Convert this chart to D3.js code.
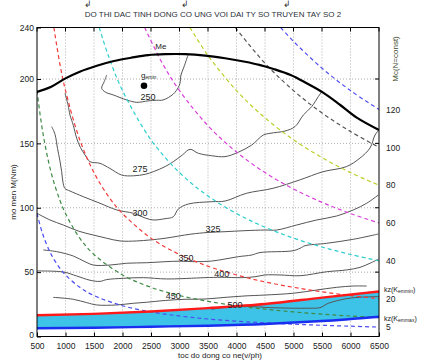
<!DOCTYPE html>
<html><head><meta charset="utf-8">
<script src="https://cdn.jsdelivr.net/npm/d3@7"></script>
<style>
body{margin:0;background:#fff}
svg{display:block}
text{font-family:"Liberation Sans",Arial,sans-serif}
</style>
</head><body>
<svg id="c" width="426" height="360"></svg>
<script>
// ---------- data ----------
const titleText = "DO THI DAC TINH DONG CO UNG VOI DAI TY SO TRUYEN TAY SO 2";
const xLabelText = "toc do dong co ne(v/ph)";
const yLabelText = "mo men M(Nm)";
const rightLabelText = "Mc(N=const)";
const xTicks = [500,1000,1500,2000,2500,3000,3500,4000,4500,5000,5500,6000,6500];
const yTicks = [0,50,100,150,200,240];
const rightTicks = [5,20,40,60,80,100,120];

// full-load torque curve Me (n, M)
const meCurve = [[500,190],[750,194],[1000,200.5],[1250,205.7],[1550,210.3],[1850,214],[2150,216.5],[2450,218.6],[2750,219.3],[3100,219.3],[3450,218.2],[3800,216.1],[4150,213.4],[4400,211],[4650,207.8],[4950,203.1],[5230,196.7],[5520,189.4],[5820,179.8],[6110,170],[6500,160.4]];

// specific fuel consumption contours (n, M)
const c250 = [[1723,203.1],[1680,198],[1635,192.8],[1700,189.8],[1839,187.6],[2074,183.7],[2249,181.9],[2447,183],[2600,183.5],[2711,183.7],[2891,188.3],[2979,193.5],[3009,196.7],[3026,203.1],[3078,209.3],[3149,218.6]];
const c275 = [[991,189],[1044,180],[1079,172],[1108,168],[1137,164],[1196,154],[1260,147],[1342,141],[1430,135.8],[1605,134.5],[1781,130.5],[1986,125.4],[2189,124.8],[2400,126],[2540,128],[2750,132],[2891,135.8],[3050,141],[3184,145.4],[3330,142.3],[3565,140.4],[3798,139.7],[4030,143.1],[4267,148.7],[4470,156.5],[4588,157.8],[4851,159.6],[5026,163],[5172,172],[5319,178.5],[5435,186.3],[5500,190.5]];
const c300 = [[758,163],[816,157],[860,146],[900,137],[933,128],[955,120],[990,115],[1079,113],[1312,108.6],[1605,103.5],[1898,98.3],[2189,95.7],[2400,92],[2540,90.5],[2746,91.5],[2891,93],[2979,99],[3154,102.9],[3565,104.7],[3798,105.2],[4172,111.2],[4640,115.1],[5109,121.6],[5518,128],[5926,131.9],[6167,138.6],[6342,146.4],[6430,156.5],[6500,160.4]];
const c325 = [[500,95.7],[728,90.5],[961,86.6],[1225,81.9],[1488,78.8],[1723,76.3],[1956,74.2],[2249,74.2],[2482,75],[2746,76.3],[3200,79.5],[3500,80.8],[3798,81.4],[4149,82.2],[4500,82.7],[4705,82.7],[5056,86.6],[5407,90.5],[5758,93.6],[6049,98.3],[6284,103.5],[6488,109.9]];
const c350 = [[611,67.2],[846,65.9],[1137,62.5],[1342,58.1],[1488,55.5],[1781,55.5],[2074,56.9],[2425,57.3],[2746,58.1],[3000,58.5],[3272,58.1],[3565,58.6],[3798,60.2],[4032,62],[4267,63.3],[4412,65.2],[4991,66.6],[5114,68.5],[5202,70.5],[5583,72.4],[6049,75.5],[6488,79.6]];
const c400 = [[500,50.9],[961,50.1],[1196,47],[1430,43.7],[1605,42.8],[1723,44.2],[2014,45.2],[2365,45.7],[2775,44.7],[3447,45.7],[3740,46],[4091,45.7],[4325,46.4],[4500,47.8],[4763,47.8],[5114,47.2],[5583,50.3],[5933,51.7],[6167,53.7],[6342,56.9],[6488,60]];
const c450 = [[786,30.4],[1137,28.9],[1372,26.3],[1547,24.5],[1898,24.5],[2189,25.8],[2425,26.6],[2750,28],[3096,28.9],[3447,29.1],[3798,30.4],[4149,31.5],[4500,32.2],[4997,33.6],[5407,36.1],[5758,38.2],[6049,39.2],[6284,39.2]];
const c500 = [[3560,21],[3750,22.5],[3974,23.5],[4237,23.3],[4600,22.4],[4939,22],[5290,22],[5465,22.4],[5611,25.8],[5933,29.4],[6167,30.5],[6500,31]];
const contourLines = [c250,c275,c300,c325,c350,c400,c450,c500];
const contourLabelText = ["250","275","300","325","350","400","450","500"];
const contourLabelN = [2447,2307,2307,3588,3114,3740,2891,3974];
const contourLabelM = [186,130.5,96.2,83.3,60.7,48.3,31.5,24.5];

// minimum specific consumption point
const geminN = [2377];
const geminM = [194.8];

// constant power curves Mc (n, M), power values in kW
const pw5   = [[500,95.5],[600,79.6],[750,63.7],[900,53.1],[1000,47.8],[1250,38.2],[1500,31.8],[2000,23.9],[2500,19.1],[3000,15.9],[3500,13.6],[4000,11.9],[4500,10.6],[5000,9.55],[5500,8.7],[6000,8.0],[6500,7.3]];
const pw10  = [[500,191],[600,159],[750,127],[900,106],[1000,95.5],[1250,76.4],[1500,63.7],[2000,47.8],[2500,38.2],[3000,31.8],[3500,27.3],[4000,23.9],[4500,21.2],[5000,19.1],[5500,17.4],[6000,15.9],[6500,14.7]];
const pw20  = [[796,240],[900,212],[1000,191],[1250,152.8],[1500,127.3],[1750,109.1],[2000,95.5],[2500,76.4],[3000,63.7],[3500,54.6],[4000,47.8],[4500,42.4],[5000,38.2],[5500,34.7],[6000,31.8],[6500,29.4]];
const pw40  = [[1592,240],[1750,218.3],[2000,191],[2500,152.8],[3000,127.3],[3500,109.1],[4000,95.5],[4500,84.9],[5000,76.4],[5500,69.5],[6000,63.7],[6500,58.8]];
const pw60  = [[2388,240],[2700,212.2],[3000,191],[3500,163.7],[4000,143.3],[4500,127.3],[5000,114.6],[5500,104.2],[6000,95.5],[6500,88.2]];
const pw80  = [[3183,240],[3500,218.3],[4000,191],[4500,169.8],[5000,152.8],[5500,138.9],[6000,127.3],[6500,117.5]];
const pw100 = [[3979,240],[4500,212.2],[5000,191],[5500,173.6],[6000,159.2],[6500,146.9]];
const pw120 = [[4775,240],[5000,229.2],[5500,208.4],[6000,191],[6500,176.3]];
const powerCurves = [pw5,pw10,pw20,pw40,pw60,pw80,pw100,pw120];
const powerColors = ["#4a4cf0","#3f8a45","#f23a3a","#2fcfcf","#d93fd9","#bccf2a","#555555","#5050ee"];

// operating band (kz range)
const bandN     = [500,1500,2500,3500,4500,5500,6500];
const bandUpper = [16.5,17.6,19.4,22,25.2,30.2,35];
const bandLower = [6.4,6.8,7.6,8.4,9.7,12,15.4];

// ---------- drawing ----------
const L = 37, R = 379, T = 27.5, B = 336.5;
const svg = d3.select("#c");
const x = d3.scaleLinear().domain([500,6500]).range([L,R]);
const y = d3.scaleLinear().domain([0,240]).range([B,T]);
const yR = d3.scaleLinear().domain([0,240*6500/9550]).range([B,T]);

svg.append("defs").append("clipPath").attr("id","clip")
  .append("rect").attr("x",L).attr("y",T).attr("width",R-L).attr("height",B-T);

// title
svg.append("text").attr("x",213).attr("y",17).attr("text-anchor","middle")
  .attr("font-size",8).attr("fill","#2a2f3a").text(titleText);
// diacritic remnants above title
[88,185,287].forEach(px=>svg.append("text").attr("x",px).attr("y",7).attr("font-size",9)
  .attr("fill","#333").attr("text-anchor","middle").text("\u21B2"));

// grid
const grid = svg.append("g").attr("stroke","#9a9a9a").attr("stroke-width",0.8).attr("stroke-dasharray","1,2");
xTicks.slice(1,-1).forEach(v=>grid.append("line").attr("x1",x(v)).attr("x2",x(v)).attr("y1",T).attr("y2",B));
yTicks.slice(1,-1).forEach(v=>grid.append("line").attr("x1",L).attr("x2",R).attr("y1",y(v)).attr("y2",y(v)));

const plot = svg.append("g").attr("clip-path","url(#clip)");
const line = d3.line().x(d=>x(d[0])).y(d=>y(d[1])).curve(d3.curveCatmullRom.alpha(0.5));

// band
const bandData = bandN.map((n,i)=>({n,u:bandUpper[i],l:bandLower[i]}));
plot.append("path").datum(bandData)
  .attr("d", d3.area().x(d=>x(d.n)).y0(d=>y(d.l)).y1(d=>y(d.u)).curve(d3.curveMonotoneX))
  .attr("fill","#3ec3e8");

// contours
contourLines.forEach(c=>plot.append("path").datum(c).attr("d",line)
  .attr("fill","none").attr("stroke","#555").attr("stroke-width",1));

// power curves
powerCurves.forEach((c,i)=>plot.append("path").datum(c).attr("d",line)
  .attr("fill","none").attr("stroke",powerColors[i]).attr("stroke-width",1.2)
  .attr("stroke-dasharray","4,3"));

// band edges
plot.append("path").datum(bandData)
  .attr("d", d3.line().x(d=>x(d.n)).y(d=>y(d.u)).curve(d3.curveMonotoneX))
  .attr("fill","none").attr("stroke","#ff1a1a").attr("stroke-width",2.4);
plot.append("path").datum(bandData)
  .attr("d", d3.line().x(d=>x(d.n)).y(d=>y(d.l)).curve(d3.curveMonotoneX))
  .attr("fill","none").attr("stroke","#1a2ef0").attr("stroke-width",2.4);

// Me
plot.append("path").datum(meCurve).attr("d",line)
  .attr("fill","none").attr("stroke","#000").attr("stroke-width",2.2);

// contour labels
contourLabelText.forEach((t,i)=>svg.append("text")
  .attr("x",x(contourLabelN[i])).attr("y",y(contourLabelM[i])).attr("dy","0.35em")
  .attr("text-anchor","middle").attr("font-size",9).attr("fill","#222").text(t));

// gemin point
svg.append("circle").attr("cx",x(geminN[0])).attr("cy",y(geminM[0])).attr("r",3.3).attr("fill","#000");
const gl = svg.append("text").attr("x",x(geminN[0])-3).attr("y",y(geminM[0])-8).attr("font-size",8).attr("fill","#222");
gl.append("tspan").text("g");
gl.append("tspan").attr("font-size",5).attr("dy",1).text("emin");

// Me label
svg.append("text").attr("x",x(2750)-10).attr("y",y(219.3)-5).attr("font-size",8).attr("fill","#222").text("Me");

// frame
svg.append("rect").attr("x",L).attr("y",T).attr("width",R-L).attr("height",B-T)
  .attr("fill","none").attr("stroke","#000").attr("stroke-width",1);

// axes
const ax = svg.append("g").attr("transform",`translate(0,${B})`)
  .call(d3.axisBottom(x).tickValues(xTicks).tickSize(-4).tickPadding(6).tickFormat(d3.format("d")));
const ayl = svg.append("g").attr("transform",`translate(${L},0)`)
  .call(d3.axisLeft(y).tickValues(yTicks).tickSize(-4).tickPadding(3));
const ayr = svg.append("g").attr("transform",`translate(${R},0)`)
  .call(d3.axisRight(yR).tickValues(rightTicks).tickSize(0).tickPadding(7));
[ax,ayl,ayr].forEach(g=>{
  g.select(".domain").remove();
  g.selectAll("text").attr("font-size",8.5).attr("fill","#222").attr("font-family","Liberation Sans, Arial, sans-serif");
  g.selectAll("line").attr("stroke","#000");
});
ayl.selectAll(".tick text").filter(d=>d===0).attr("dy","0.1em");
// mirrored ticks
const mt = svg.append("g").attr("stroke","#000");
xTicks.forEach(v=>mt.append("line").attr("x1",x(v)).attr("x2",x(v)).attr("y1",T).attr("y2",T+4));
yTicks.forEach(v=>mt.append("line").attr("x1",R).attr("x2",R-4).attr("y1",y(v)).attr("y2",y(v)));

// axis titles
svg.append("text").attr("x",220).attr("y",358).attr("text-anchor","middle")
  .attr("font-size",8).attr("fill","#222").text(xLabelText);
svg.append("text").attr("transform","translate(16,192) rotate(-90)").attr("text-anchor","middle")
  .attr("font-size",8).attr("fill","#222").text(yLabelText);
svg.append("text").attr("transform","translate(398,59) rotate(-90)").attr("text-anchor","middle")
  .attr("font-size",8).attr("fill","#3b4a2a").text(rightLabelText);

// kz labels at right
function kz(yy, sub){
  const t = svg.append("text").attr("x",384).attr("y",yy).attr("font-size",7).attr("fill","#222");
  t.append("tspan").text("kz(K");
  t.append("tspan").attr("font-size",5).attr("dy",1.5).text(sub);
  t.append("tspan").attr("dy",-1.5).text(")");
}
kz(y(bandUpper[bandUpper.length-1])+0.5, "emmin");
kz(y(bandLower[bandLower.length-1])+4, "emmax");
</script>
</body></html>
